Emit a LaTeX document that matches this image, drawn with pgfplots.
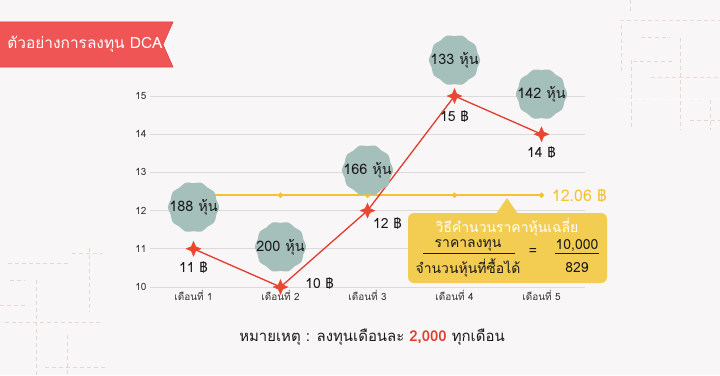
\documentclass[border=0pt]{standalone}
\usepackage{pgfplots}
\pgfplotsset{compat=1.18}
\usepackage{fontspec}
\setmainfont[Script=Thai]{Loma}
\definecolor{bg}{HTML}{F8F6F6}
\definecolor{banner}{HTML}{F05555}
\definecolor{bannerdark}{HTML}{E04444}
\definecolor{linered}{HTML}{E33B2E}
\definecolor{markred}{HTML}{EA4630}
\definecolor{avgyel}{HTML}{F2C230}
\definecolor{boxyel}{HTML}{F3CD52}
\definecolor{bubble}{HTML}{A5C0BB}
\definecolor{gridc}{HTML}{DDDADA}
\definecolor{deco}{HTML}{E2DACF}
\definecolor{decopink}{HTML}{F0D8D4}
\definecolor{txt}{HTML}{1A1A1A}
\definecolor{ticktxt}{HTML}{333333}

\pgfdeclareplotmark{star4}{%
 \pgfpathmoveto{\pgfqpoint{0pt}{\pgfplotmarksize}}%
 \pgfpathlineto{\pgfqpoint{0.3\pgfplotmarksize}{0.3\pgfplotmarksize}}%
 \pgfpathlineto{\pgfqpoint{\pgfplotmarksize}{0pt}}%
 \pgfpathlineto{\pgfqpoint{0.3\pgfplotmarksize}{-0.3\pgfplotmarksize}}%
 \pgfpathlineto{\pgfqpoint{0pt}{-\pgfplotmarksize}}%
 \pgfpathlineto{\pgfqpoint{-0.3\pgfplotmarksize}{-0.3\pgfplotmarksize}}%
 \pgfpathlineto{\pgfqpoint{-\pgfplotmarksize}{0pt}}%
 \pgfpathlineto{\pgfqpoint{-0.3\pgfplotmarksize}{0.3\pgfplotmarksize}}%
 \pgfpathclose
 \pgfusepathqfillstroke}

\begin{document}
\begin{tikzpicture}[x=1bp,y=1bp]
\fill[bg] (0,0) rectangle (720,375);
\useasboundingbox (0,0) rectangle (720,375);
% decorative dashed lines
\begin{scope}[deco, line width=0.7bp, dash pattern=on 4bp off 3bp]
\draw (630,375)--(630,362);
\draw[decopink] (620,355)--(720,355);
\draw (621,350)--(621,302);
\draw (641,338)--(670,338);
\draw (680,337)--(680,245);
\draw (633,314)--(672,314);
\draw (631,315)--(631,248);
\draw[decopink] (651,298)--(720,298);
\draw[white!90!deco] (617,276)--(720,276);
\draw (690,255)--(720,255);
\draw (710,275)--(710,245);
\draw (72,122)--(102,122);
\draw (89,127)--(89,63);
\draw (8,112)--(70,112);
\draw (36,95)--(36,0);
\draw (10,95)--(25,95);
\draw[decopink] (0,70)--(28,70);
\draw (5,53)--(103,53);
\draw (67,40)--(67,0);
\draw (45,8)--(105,8);
\end{scope}
% banner
\fill[banner] (0,308)--(173,308)--(163,330.5)--(173,353)--(0,353)--cycle;
\draw[bannerdark, line width=0.6bp] (0,308)--(173,308)--(163,330.5)--(173,353)--(0,353);
\node[text=white,font=\fontsize{15.5}{18}\selectfont] at (85,331) {ตัวอย่างการลงทุน DCA};

\begin{axis}[at={(150bp,88bp)}, anchor=south west, scale only axis,
  width=435bp, height=191bp,
  xmin=0.5, xmax=5.5, ymin=10, ymax=15,
  axis line style={draw=none}, major tick length=0pt,
  ymajorgrids, grid style={gridc, line width=0.8bp},
  xtick={1,2,3,4,5},
  xticklabels={เดือนที่ 1,เดือนที่ 2,เดือนที่ 3,เดือนที่ 4,เดือนที่ 5},
  ytick={10,11,12,13,14,15},
  tick label style={font=\fontsize{10}{12}\selectfont, text=ticktxt},
  /pgf/number format/assume math mode=true,
  clip=false]
\addplot[draw=avgyel, line width=1.8bp, mark=*, mark size=1.6bp, mark options={fill=avgyel, draw=avgyel}] coordinates {(1,12.4)(2,12.4)(3,12.4)(4,12.4)(5,12.4)};
\addplot[draw=linered, line width=1.3bp, mark=star4, mark size=7.5bp, mark options={fill=markred, draw=markred, line width=0.3bp}] coordinates {(1,11)(2,10)(3,12)(4,15)(5,14)};
\node[font=\fontsize{14}{16}\selectfont, text=txt] at (axis cs:1,10.5) {11 ฿};
\node[font=\fontsize{14}{16}\selectfont, text=txt] at (axis cs:2.45,10.1) {10 ฿};
\node[font=\fontsize{14}{16}\selectfont, text=txt] at (axis cs:3.23,11.65) {12 ฿};
\node[font=\fontsize{14}{16}\selectfont, text=txt] at (axis cs:4,14.45) {15 ฿};
\node[font=\fontsize{14}{16}\selectfont, text=txt] at (axis cs:5,13.51) {14 ฿};
\node[anchor=west, text=avgyel, font=\fontsize{16}{18}\selectfont] at (axis cs:5.08,12.4) {12.06 ฿};
\coordinate (b1) at (axis cs:1,12.09);
\coordinate (b2) at (axis cs:2,11.05);
\coordinate (b3) at (axis cs:3,13.06);
\coordinate (b4) at (axis cs:4,15.94);
\coordinate (b5) at (axis cs:5,15.05);
\end{axis}

\foreach \c/\t in {b1/188,b2/200,b3/166,b4/133,b5/142} {
  \begin{scope}[shift={(\c)}]
  \fill[bubble] plot[smooth cycle, variable=\a, domain=0:351, samples=40] ({(24.8+0.8*cos(10*\a))*cos(\a)}, {(24.8+0.8*cos(10*\a))*sin(\a)});
  \end{scope}
  \node[font=\fontsize{14.5}{16}\selectfont, text=txt] at (\c) {\t\ หุ้น};
}

% info box
\fill[boxyel, rounded corners=6bp] (408,92) rectangle (607,162);
\fill[boxyel] (496,161)--(507,177)--(518,161)--cycle;
\node[text=white, font=\fontsize{14}{16}\selectfont] at (507,148) {วิธีคำนวนราคาหุ้นเฉลี่ย};
\node[text=txt, font=\fontsize{14}{16}\selectfont] at (468,130) {ราคาลงทุน};
\draw[txt, line width=0.8bp] (423,122)--(515,122);
\node[text=txt, font=\fontsize{14}{16}\selectfont] at (468,107) {จำนวนหุ้นที่ซื้อได้};
\node[text=txt, font=\fontsize{14}{16}\selectfont] at (533,123) {=};
\node[text=txt, font=\fontsize{14}{16}\selectfont] at (577,130) {10,000};
\draw[txt, line width=0.8bp] (555,122)--(599,122);
\node[text=txt, font=\fontsize{14}{16}\selectfont] at (577,107) {829};

% note
\node[text=txt, font=\fontsize{15}{18}\selectfont] at (372,38) {หมายเหตุ : ลงทุนเดือนละ \textcolor{linered}{\bfseries 2,000} ทุกเดือน};
\end{tikzpicture}
\end{document}
